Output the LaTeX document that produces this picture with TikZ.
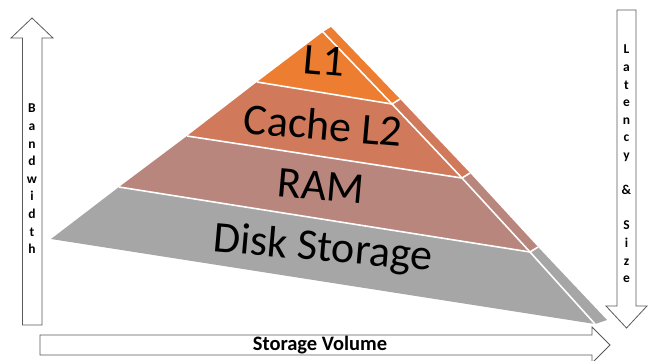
\documentclass[tikz,border=0pt]{standalone}
\usepackage{fontspec}
\setmainfont{Carlito}
\usetikzlibrary{calc}

\definecolor{lonec}{HTML}{ED7D31}
\definecolor{ltwoc}{HTML}{D07A5B}
\definecolor{ramc}{HTML}{B9867E}
\definecolor{diskc}{HTML}{A6A6A6}

\begin{document}
\begin{tikzpicture}[x=1pt, y=-1pt,
    layer/.style={anchor=base, inner sep=0pt, rotate=-5, font=\fontsize{44}{46}\selectfont},
    gap/.style={white, line width=1.6pt},
    axis/.style={draw=black!65, line width=0.8pt, fill=white},
    vtxt/.style={align=center, inner sep=0pt, font=\fontsize{13.5}{17.6}\selectfont\bfseries},
  ]
  \useasboundingbox (0,0) rectangle (649,360);
  \clip (0,0) rectangle (649,360);

  % axes
  \draw[axis] (22.5,325) -- (22.5,38) -- (11,38) -- (32,18) -- (53,38) -- (42,38) -- (42,325) -- cycle;
  \draw[axis] (617,10) -- (617,306) -- (606,306) -- (626.5,328) -- (647,306) -- (636,306) -- (636,10) -- cycle;
  \draw[axis] (40,335) -- (592,335) -- (592,327) -- (610,345) -- (592,363) -- (592,355) -- (40,355) -- cycle;

  \node[vtxt] (bw) at (32,179) {B\\a\\n\\d\\w\\i\\d\\t\\h};
  \node[vtxt] (lat) at (626.5,164) {L\\a\\t\\e\\n\\c\\y\\[17.6pt]\&\\[17.6pt]S\\i\\z\\e};
  \node[inner sep=0pt, font=\fontsize{20.5}{22}\selectfont\bfseries] (vol) at (320,345) {Storage Volume};

  % pyramid: front face corners (a left, b right), side face corners (c)
  \coordinate (a0) at (323,32);  \coordinate (b0) at (323,32);  \coordinate (c0) at (331,27);
  \coordinate (a1) at (257,82);  \coordinate (b1) at (392,104); \coordinate (c1) at (400,99);
  \coordinate (a2) at (187,136); \coordinate (b2) at (462,178); \coordinate (c2) at (470,173);
  \coordinate (a3) at (119,187); \coordinate (b3) at (530,252); \coordinate (c3) at (538,247);
  \coordinate (a4) at (51,239);  \coordinate (b4) at (595,324); \coordinate (c4) at (607,320);

  \foreach \i/\j/\col in {0/1/lonec, 1/2/ltwoc, 2/3/ramc, 3/4/diskc}
    \fill[\col] (a\i) -- (a\j) -- (b\j) -- (c\j) -- (c\i) -- (b\i) -- cycle;
  \foreach \i in {1,2,3}
    \draw[gap] (a\i) -- (b\i) -- (c\i);
  \draw[gap] ($(a0)!-0.3!(b1)$) -- (b1) -- (b2) -- (b3) -- (b4);

  \node[layer] (l1) at (323,75) {L1};
  \node[layer] (l2) at (322,140) {Cache L2};
  \node[layer] (ram) at (320,200) {RAM};
  \node[layer] (disk) at (322,261) {Disk Storage};
\end{tikzpicture}
\end{document}
